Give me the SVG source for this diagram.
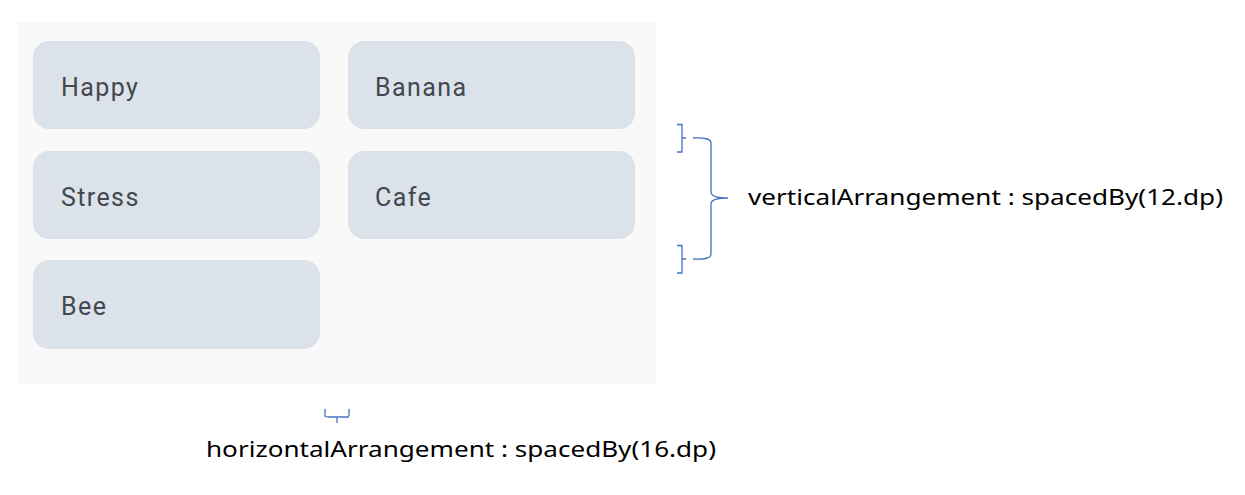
<svg xmlns="http://www.w3.org/2000/svg" width="1245" height="495" viewBox="0 0 1245 495">
<style>
.chip{fill:#dce2e9;}
.ct{font-family:Roboto,"Noto Sans",sans-serif;font-size:25px;fill:#41484e;letter-spacing:1.4px;}
.lbl{font-family:"Noto Sans","Liberation Sans",sans-serif;font-size:22px;fill:#000;}
.br{fill:none;stroke:#4472c4;stroke-width:1.3;}
</style>
<rect x="0" y="0" width="1245" height="495" fill="#ffffff"/>
<rect x="17" y="22" width="639" height="362" fill="#f9f9f9"/>
<g id="happy"><rect class="chip" x="33" y="41" width="287" height="88" rx="16"/><text class="ct" x="61" y="96">Happy</text></g>
<g id="banana"><rect class="chip" x="348" y="41" width="287" height="88" rx="16"/><text class="ct" x="375" y="96">Banana</text></g>
<g id="stress"><rect class="chip" x="33" y="151" width="287" height="88" rx="16"/><text class="ct" x="61" y="206">Stress</text></g>
<g id="cafe"><rect class="chip" x="348" y="151" width="287" height="88" rx="16"/><text class="ct" x="375" y="206">Cafe</text></g>
<g id="bee"><rect class="chip" x="33" y="260" width="287" height="89" rx="16"/><text class="ct" x="61" y="315">Bee</text></g>
<g id="connectors">
<path class="br" d="M677 124.5 H682 V152 H677 M682 138 H686"/>
<path class="br" d="M677 245.5 H682 V273 H677 M682 259 H686"/>
<path class="br" d="M693 138 Q711 137 711 143 V192 Q711 198 728 198 Q711 198 711 204 V254 Q711 260 693 259"/>
<path class="br" d="M325 409 V416 Q325 417 330 417 H349 M349 409 V416 M337 417 V423"/>
</g>
<text class="lbl" x="748" y="205" textLength="475" lengthAdjust="spacingAndGlyphs">verticalArrangement : spacedBy(12.dp)</text>
<text class="lbl" x="206" y="457" textLength="510" lengthAdjust="spacingAndGlyphs">horizontalArrangement : spacedBy(16.dp)</text>
</svg>
